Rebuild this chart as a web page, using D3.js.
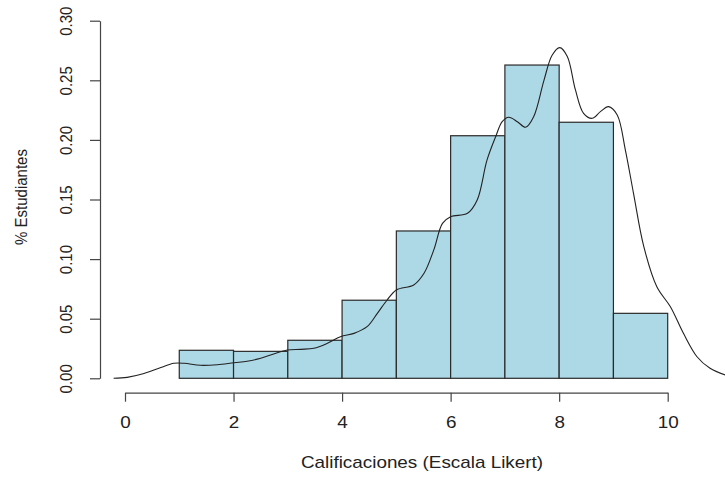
<!DOCTYPE html>
<html>
<head>
<meta charset="utf-8">
<script src="https://cdn.jsdelivr.net/npm/d3@7"></script>
<style>
  body { margin: 0; background: #fff; }
  svg { display: block; font-family: "Liberation Sans", Arial, sans-serif; }
</style>
</head>
<body>
<div id="chart"></div>
<script>
// histogram breaks and densities
const breaks = [1, 2, 3, 4, 5, 6, 7, 8, 9, 10];
const densities = [0.0235, 0.0226, 0.0319, 0.0655, 0.1236, 0.2035, 0.2628, 0.2148, 0.0545];

// kernel density curve
const densX = [-0.21, 0.04, 0.35, 0.66, 0.9, 1.09, 1.39, 1.70, 2.01, 2.25, 2.50, 2.74, 2.99, 3.24, 3.48, 3.73, 3.97, 4.22, 4.46, 4.65, 4.83, 5.0, 5.32, 5.51, 5.69, 5.85, 6.0, 6.31, 6.49, 6.67, 6.83, 6.95, 7.07, 7.23, 7.38, 7.53, 7.72, 7.87, 8.01, 8.15, 8.30, 8.45, 8.61, 8.76, 8.91, 9.07, 9.22, 9.37, 9.56, 9.80, 10.05, 10.29, 10.54, 10.78, 11.06];
const densY = [0, 0.0008, 0.004, 0.009, 0.0126, 0.0126, 0.0109, 0.0114, 0.0131, 0.0143, 0.0168, 0.0204, 0.0237, 0.0243, 0.0252, 0.0294, 0.0349, 0.0377, 0.0433, 0.0545, 0.0657, 0.0741, 0.0783, 0.0881, 0.1077, 0.130, 0.1356, 0.1384, 0.1496, 0.183, 0.2027, 0.2153, 0.219, 0.2153, 0.2106, 0.2195, 0.250, 0.271, 0.2774, 0.270, 0.2419, 0.2223, 0.2181, 0.2237, 0.2279, 0.2209, 0.1915, 0.1552, 0.1104, 0.0768, 0.060, 0.0377, 0.0181, 0.0084, 0.0028];

const xTicks = [0, 2, 4, 6, 8, 10];
const yTicks = [0, 0.05, 0.10, 0.15, 0.20, 0.25, 0.30];

const xLabel = "Calificaciones (Escala Likert)";
const yLabel = "% Estudiantes";

const width = 725, height = 479;
// the original picture is a little stretched sideways, so is its text
const stretch = 1.18;

const svg = d3.select("#chart").append("svg")
    .attr("width", width)
    .attr("height", height);

// scales
const x = d3.scaleLinear().domain([0, 10]).range([125, 667.7]);
const y = d3.scaleLinear().domain([0, 0.3]).range([378.3, 20.7]);

// bars
const bins = densities.map((d, i) => ({ x0: breaks[i], x1: breaks[i + 1], d: d }));

svg.append("g")
    .selectAll("rect")
    .data(bins)
    .join("rect")
    .attr("x", d => x(d.x0))
    .attr("y", d => y(d.d))
    .attr("width", d => x(d.x1) - x(d.x0))
    .attr("height", d => y(0) - y(d.d))
    .attr("fill", "#add8e6")
    .attr("stroke", "#2a2a2a")
    .attr("stroke-width", 1.2);

// density line
const line = d3.line()
    .x(d => x(d[0]))
    .y(d => y(d[1]))
    .curve(d3.curveCatmullRom);

svg.append("path")
    .datum(d3.zip(densX, densY))
    .attr("fill", "none")
    .attr("stroke", "#222")
    .attr("stroke-width", 1.1)
    .attr("d", line);

// x axis
const xAxis = d3.axisBottom(x)
    .tickValues(xTicks)
    .tickFormat(d3.format("d"))
    .tickSize(9)
    .tickSizeOuter(0);

const gx = svg.append("g")
    .attr("transform", "translate(0,392.7)")
    .call(xAxis);

gx.selectAll("path, line").attr("stroke", "#444").attr("stroke-width", 1.2);
gx.selectAll("text")
    .attr("transform", "translate(0,30) scale(" + stretch + ",1)")
    .attr("y", 0)
    .attr("dy", "0.35em")
    .attr("fill", "#222")
    .attr("font-size", 16)
    .attr("font-family", "Liberation Sans, Arial, sans-serif");

// y axis
const yAxis = d3.axisLeft(y)
    .tickValues(yTicks)
    .tickFormat(d3.format(".2f"))
    .tickSize(10)
    .tickSizeOuter(0);

const gy = svg.append("g")
    .attr("transform", "translate(100,0)")
    .call(yAxis);

gy.selectAll("path, line").attr("stroke", "#444").attr("stroke-width", 1.2);
gy.selectAll("text")
    .attr("transform", "translate(-34,0) rotate(-90) scale(1,1.1)")
    .attr("x", 0)
    .attr("y", 0)
    .attr("dy", "0.35em")
    .attr("text-anchor", "middle")
    .attr("fill", "#222")
    .attr("font-size", 15)
    .attr("font-family", "Liberation Sans, Arial, sans-serif");

// axis titles
svg.append("text")
    .attr("transform", "translate(422,462) scale(" + stretch + ",1)")
    .attr("dy", "0.35em")
    .attr("text-anchor", "middle")
    .attr("font-size", 16)
    .attr("fill", "#222")
    .text(xLabel);

svg.append("text")
    .attr("transform", "translate(21,197) rotate(-90) scale(1,1.1)")
    .attr("dy", "0.35em")
    .attr("text-anchor", "middle")
    .attr("font-size", 15)
    .attr("fill", "#222")
    .text(yLabel);
</script>
</body>
</html>
